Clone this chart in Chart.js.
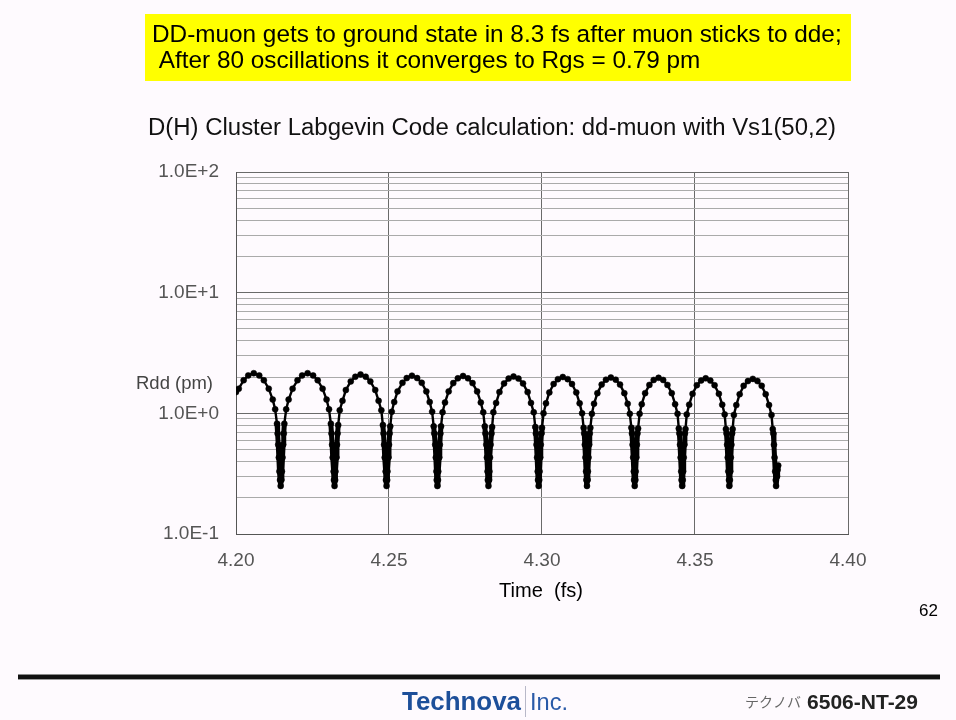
<!DOCTYPE html>
<html><head><meta charset="utf-8">
<script src="https://cdn.jsdelivr.net/npm/chart.js@4.4.1/dist/chart.umd.min.js"></script>
<style>html,body{margin:0;padding:0;background:#fefafe;overflow:hidden}#wrap{position:relative;width:956px;height:720px}</style>
</head><body><div id="wrap"><canvas id="c" width="956" height="720"></canvas></div>
<script>
// ---- data (one row per oscillation) ----
const timeFs = [
  4.2000,4.2009,4.2025,4.2040,4.2058,4.2076,4.2091,4.2107,4.2120,4.2128,4.2134,4.2136,4.2138,4.2140,4.2142,4.2144,4.2146,
  4.2148,4.2150,4.2152,4.2154,4.2156,4.2158,4.2164,4.2172,4.2185,4.2201,4.2216,4.2234,4.2252,4.2267,4.2283,4.2296,4.2304,4.2310,4.2312,4.2314,4.2316,4.2319,4.2320,4.2322,
  4.2324,4.2325,4.2328,4.2330,4.2332,4.2334,4.2339,4.2348,4.2359,4.2375,4.2390,4.2407,4.2424,4.2439,4.2455,4.2466,4.2475,4.2480,4.2482,4.2484,4.2486,4.2489,4.2490,4.2492,
  4.2494,4.2495,4.2498,4.2500,4.2502,4.2504,4.2509,4.2517,4.2528,4.2544,4.2558,4.2575,4.2592,4.2607,4.2622,4.2633,4.2641,4.2646,4.2648,4.2651,4.2653,4.2655,4.2656,4.2658,
  4.2660,4.2661,4.2664,4.2666,4.2668,4.2670,4.2675,4.2683,4.2695,4.2710,4.2725,4.2742,4.2758,4.2773,4.2788,4.2800,4.2808,4.2813,4.2815,4.2818,4.2820,4.2822,4.2823,4.2825,
  4.2827,4.2828,4.2830,4.2832,4.2835,4.2837,4.2841,4.2850,4.2861,4.2876,4.2891,4.2907,4.2923,4.2938,4.2953,4.2964,4.2973,4.2978,4.2980,4.2982,4.2984,4.2986,4.2987,4.2989,
  4.2991,4.2992,4.2994,4.2996,4.2998,4.3000,4.3005,4.3013,4.3024,4.3038,4.3052,4.3068,4.3084,4.3098,4.3112,4.3123,4.3131,4.3136,4.3138,4.3140,4.3142,4.3144,4.3145,4.3147,
  4.3149,4.3150,4.3152,4.3154,4.3156,4.3158,4.3163,4.3170,4.3181,4.3195,4.3209,4.3225,4.3241,4.3255,4.3269,4.3280,4.3287,4.3292,4.3294,4.3296,4.3298,4.3300,4.3301,4.3303,
  4.3305,4.3306,4.3308,4.3310,4.3312,4.3314,4.3319,4.3326,4.3337,4.3351,4.3365,4.3381,4.3396,4.3410,4.3424,4.3435,4.3443,4.3447,4.3449,4.3451,4.3453,4.3455,4.3456,4.3458,
  4.3460,4.3461,4.3463,4.3465,4.3467,4.3469,4.3473,4.3481,4.3492,4.3506,4.3520,4.3535,4.3550,4.3564,4.3578,4.3589,4.3597,4.3601,4.3603,4.3605,4.3607,4.3609,4.3611,4.3612,
  4.3614,4.3615,4.3617,4.3619,4.3621,4.3623,4.3627,4.3635,4.3646,4.3659,4.3673,4.3689,4.3704,4.3718,4.3731,4.3742,4.3750,4.3754,4.3756,4.3758,4.3760,4.3762,4.3764,4.3765,4.3768,4.3770,4.3772
];
const rddPm = [
  1.50,1.60,1.88,2.06,2.15,2.06,1.88,1.60,1.30,1.08,0.82,0.68,0.55,0.43,0.33,0.28,0.25,
  0.28,0.33,0.43,0.55,0.68,0.82,1.08,1.30,1.60,1.88,2.06,2.15,2.06,1.88,1.60,1.30,1.08,0.82,0.68,0.55,0.43,0.33,0.28,0.25,
  0.28,0.33,0.43,0.55,0.68,0.80,1.06,1.27,1.56,1.84,2.01,2.10,2.01,1.84,1.56,1.27,1.06,0.80,0.68,0.55,0.43,0.33,0.28,0.25,
  0.28,0.33,0.43,0.55,0.68,0.78,1.03,1.24,1.52,1.79,1.96,2.05,1.96,1.79,1.52,1.24,1.03,0.78,0.68,0.55,0.43,0.33,0.28,0.25,
  0.28,0.33,0.43,0.55,0.68,0.78,1.02,1.23,1.52,1.78,1.95,2.04,1.95,1.78,1.52,1.23,1.02,0.78,0.68,0.55,0.43,0.33,0.28,0.25,
  0.28,0.33,0.43,0.55,0.68,0.77,1.02,1.22,1.50,1.77,1.94,2.02,1.94,1.77,1.50,1.22,1.02,0.77,0.68,0.55,0.43,0.33,0.28,0.25,
  0.28,0.33,0.43,0.55,0.68,0.76,1.00,1.21,1.49,1.75,1.92,2.00,1.92,1.75,1.49,1.21,1.00,0.76,0.68,0.55,0.43,0.33,0.28,0.25,
  0.28,0.33,0.43,0.55,0.68,0.76,0.99,1.20,1.47,1.73,1.90,1.98,1.90,1.73,1.47,1.20,0.99,0.76,0.68,0.55,0.43,0.33,0.28,0.25,
  0.28,0.33,0.43,0.55,0.68,0.75,0.99,1.19,1.47,1.72,1.89,1.97,1.89,1.72,1.47,1.19,0.99,0.75,0.68,0.55,0.43,0.33,0.28,0.25,
  0.28,0.33,0.43,0.55,0.68,0.74,0.98,1.18,1.45,1.71,1.87,1.95,1.87,1.71,1.45,1.18,0.98,0.74,0.68,0.55,0.43,0.33,0.28,0.25,
  0.28,0.33,0.43,0.55,0.68,0.74,0.97,1.17,1.44,1.69,1.85,1.93,1.85,1.69,1.44,1.17,0.97,0.74,0.68,0.55,0.43,0.33,0.28,0.25,0.30,0.34,0.37
];
const xTickValues = [4.20, 4.25, 4.30, 4.35, 4.40];
const yDecades = [0.1, 1, 10, 100];
const yMinorMultipliers = [2, 3, 4, 5, 6, 7, 8, 9];
const headlineLines = ["DD-muon gets to ground state in 8.3 fs after muon sticks to dde;", " After 80 oscillations it converges to Rgs = 0.79 pm"];
const chartTitle = "D(H) Cluster Labgevin Code calculation: dd-muon with Vs1(50,2)";
const yAxisLabel = "Rdd (pm)";
const xAxisLabel = "Time  (fs)";
const pageNumber = "62";
const footerLeftA = "Technova";
const footerLeftB = "Inc.";
const footerRightA = "テクノバ";
const footerRightB = "6506-NT-29";

// ---- build ----
const points = timeFs.map((t, i) => ({ x: t, y: rddPm[i] }));
const yTickValues = [];
yDecades.forEach((d, i) => {
  yTickValues.push(d);
  if (i < yDecades.length - 1) yMinorMultipliers.forEach(m => yTickValues.push(+(d * m).toPrecision(6)));
});
const isDecade = v => Math.abs(Math.log10(v) - Math.round(Math.log10(v))) < 1e-6;
const fmtE = v => { const e = Math.round(Math.log10(v)); return '1.0E' + (e >= 0 ? '+' : '-') + Math.abs(e); };
const FONT = '"Liberation Sans", Arial, sans-serif';

function fitFont(ctx, text, prefix, family, targetW) {
  ctx.font = prefix + '100px ' + family;
  const w = ctx.measureText(text).width;
  const size = 100 * targetW / w;
  return prefix + size.toFixed(2) + 'px ' + family;
}

const decor = {
  id: 'decor',
  beforeDraw(chart) {
    const ctx = chart.ctx;
    ctx.save();
    ctx.fillStyle = '#fefafe';
    ctx.fillRect(0, 0, chart.width, chart.height);
    ctx.restore();
  },
  afterDraw(chart) {
    const ctx = chart.ctx;
    ctx.save();
    // yellow headline box
    ctx.fillStyle = '#ffff00';
    ctx.fillRect(145, 14, 706, 67);
    ctx.fillStyle = '#000';
    ctx.textBaseline = 'middle';
    ctx.textAlign = 'left';
    ctx.font = fitFont(ctx, headlineLines[0], '', FONT, 690);
    ctx.fillText(headlineLines[0], 152, 35);
    ctx.fillText(headlineLines[1], 152, 61);
    // chart title
    ctx.textAlign = 'center';
    ctx.font = fitFont(ctx, chartTitle, '', FONT, 688);
    ctx.fillStyle = '#111';
    ctx.fillText(chartTitle, 492, 128);
    // y axis label
    ctx.textAlign = 'right';
    ctx.font = fitFont(ctx, yAxisLabel, '', FONT, 77);
    ctx.fillStyle = '#444';
    ctx.fillText(yAxisLabel, 213, chart.scales.y.getPixelForValue(1.75));
    // x axis title
    ctx.textAlign = 'center';
    ctx.font = fitFont(ctx, xAxisLabel, '', FONT, 84);
    ctx.fillStyle = '#000';
    ctx.fillText(xAxisLabel, 541, 591);
    // page number
    ctx.font = '17px ' + FONT;
    ctx.textAlign = 'right';
    ctx.fillText(pageNumber, 938, 611);
    // footer rule
    ctx.fillStyle = '#8a8a8a';
    ctx.fillRect(18, 674, 922, 1);
    ctx.fillStyle = '#111';
    ctx.fillRect(18, 675, 922, 4);
    ctx.fillStyle = '#9a9a9a';
    ctx.fillRect(18, 679, 922, 1);
    // logo
    ctx.textAlign = 'left';
    ctx.font = fitFont(ctx, footerLeftA, 'bold ', FONT, 119);
    ctx.fillStyle = '#1d4f9a';
    ctx.fillText(footerLeftA, 402, 703);
    ctx.fillStyle = '#b8b8c8';
    ctx.fillRect(525, 686, 1, 31);
    ctx.font = fitFont(ctx, footerLeftB, '', '"Liberation Sans Narrow", ' + FONT, 38);
    ctx.fillStyle = '#2a5aa8';
    ctx.fillText(footerLeftB, 530, 703);
    // right footer
    ctx.font = '14px "Noto Sans CJK JP", sans-serif';
    ctx.fillStyle = '#666';
    ctx.fillText(footerRightA, 745, 702);
    ctx.textAlign = 'right';
    ctx.font = fitFont(ctx, footerRightB, 'bold ', FONT, 111);
    ctx.fillStyle = '#222';
    ctx.fillText(footerRightB, 918, 703);
    ctx.restore();
  }
};

new Chart(document.getElementById('c'), {
  type: 'scatter',
  data: {
    datasets: [{
      data: points,
      showLine: true,
      borderColor: '#000',
      borderWidth: 2.4,
      borderJoinStyle: 'round',
      borderCapStyle: 'round',
      pointRadius: 3,
      pointBackgroundColor: '#000',
      pointBorderColor: '#000',
      pointBorderWidth: 0.5,
      tension: 0,
      segment: {
        borderWidth: c => (c.p0.parsed.y < 0.85 && c.p1.parsed.y < 0.85) ? 5 : 2.4
      }
    }]
  },
  options: {
    responsive: false,
    devicePixelRatio: 1,
    animation: false,
    layout: { padding: { left: 0, right: 108, top: 172, bottom: 0 } },
    plugins: { legend: { display: false }, tooltip: { enabled: false }, title: { display: false } },
    scales: {
      x: {
        type: 'linear',
        min: 4.2, max: 4.4,
        afterBuildTicks: s => { s.ticks = xTickValues.map(v => ({ value: v })); },
        afterFit: s => { s.height = 186; },
        ticks: {
          callback: v => Number(v).toFixed(2),
          color: '#555',
          font: { family: FONT, size: 19 },
          padding: 15,
          maxRotation: 0,
          autoSkip: false
        },
        grid: { color: '#6a6a6a', lineWidth: 1, drawTicks: false },
        border: { display: true, color: '#555', width: 1 }
      },
      y: {
        type: 'logarithmic',
        min: 0.1, max: 100,
        afterBuildTicks: s => { s.ticks = yTickValues.map(v => ({ value: v, major: isDecade(v) })); },
        afterFit: s => { s.width = 236; },
        ticks: {
          callback: v => isDecade(v) ? fmtE(v) : '',
          color: '#555',
          font: { family: FONT, size: 19 },
          padding: 17,
          autoSkip: false
        },
        grid: {
          color: c => (c.tick && isDecade(c.tick.value)) ? '#6a6a6a' : '#aaaaaa',
          lineWidth: 1,
          drawTicks: false
        },
        border: { display: true, color: '#555', width: 1 }
      }
    }
  },
  plugins: [decor]
});
</script>
</body></html>
